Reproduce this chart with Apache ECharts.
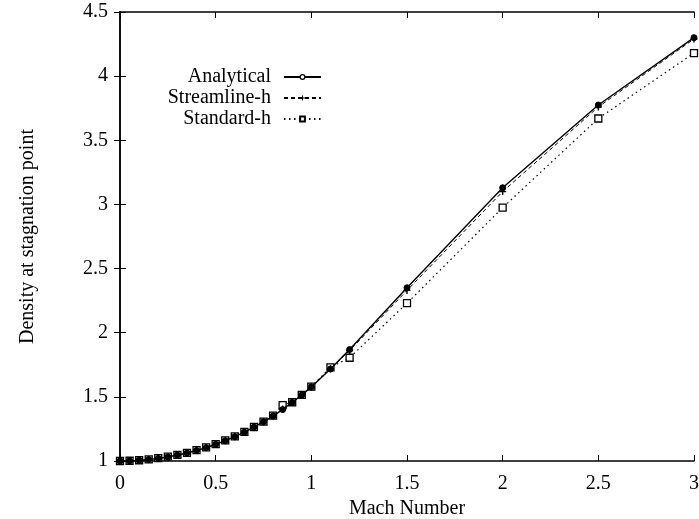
<!DOCTYPE html>
<html>
<head>
<meta charset="utf-8">
<script src="https://cdn.jsdelivr.net/npm/echarts@6/dist/echarts.min.js"></script>
<style>html,body{margin:0;padding:0;background:#fff;}#c{width:699px;height:519px;}</style>
</head>
<body>
<div id="c"></div>
<script>
var mach = [0,0.05,0.1,0.15,0.2,0.25,0.3,0.35,0.4,0.45,0.5,0.55,0.6,0.65,0.7,0.75,0.8,0.85,0.9,0.95,1.0,1.1,1.2,1.5,2,2.5,3];
var analytical = [1,1.001,1.005,1.011,1.020,1.032,1.046,1.062,1.082,1.104,1.130,1.158,1.190,1.225,1.263,1.305,1.351,1.401,1.456,1.514,1.577,1.717,1.869,2.35,3.13,3.775,4.30];
var streamline = [1,1.001,1.005,1.011,1.020,1.032,1.046,1.062,1.082,1.104,1.130,1.158,1.190,1.225,1.263,1.305,1.351,1.405,1.456,1.514,1.577,1.72,1.86,2.33,3.10,3.76,4.29];
var standard = [1,1.002,1.006,1.013,1.022,1.034,1.048,1.064,1.084,1.106,1.132,1.160,1.192,1.227,1.265,1.307,1.353,1.436,1.458,1.516,1.579,1.73,1.805,2.23,2.975,3.67,4.18];
var xTicks = {min:0, max:3, step:0.5};
var yTicks = {min:1, max:4.5, step:0.5};
var names = ['Analytical','Streamline-h','Standard-h'];

function pairs(ys){ return mach.map(function(m,i){ return [m, ys[i]]; }); }
var font = 'Liberation Serif';
var plus = 'path://M4,0 H6 V4 H10 V6 H6 V10 H4 V6 H0 V4 H4 Z';

var chart = echarts.init(document.getElementById('c'), null, {renderer:'canvas'});
function legend(name, top, itemStyle){
  var l = {
    data:[name], orient:'vertical', align:'right', right:377, top:top,
    itemWidth:37, itemHeight:6, padding:0,
    textStyle:{fontFamily:font, fontSize:20, color:'#000', padding:[0,8,0,0]},
    selectedMode:false
  };
  if (itemStyle) l.itemStyle = itemStyle;
  return l;
}
var axisCommon = {
  axisLine:{show:true, lineStyle:{color:'#000', width:1.5}},
  axisTick:{show:true, inside:true, length:6, lineStyle:{color:'#000', width:1}},
  splitLine:{show:false}
};
chart.setOption({
  animation:false,
  backgroundColor:'#fff',
  grid:{left:120, right:5, top:12, bottom:58, containLabel:false, outerBoundsMode:'none'},
  legend:[
    legend(names[0], 67, {color:'#fff', borderColor:'#000', borderWidth:1.2}),
    legend(names[1], 88),
    legend(names[2], 109)
  ],
  xAxis:[
    Object.assign({type:'value', min:xTicks.min, max:xTicks.max, interval:xTicks.step, position:'bottom',
      name:'Mach Number', nameLocation:'middle', nameGap:37,
      nameTextStyle:{fontFamily:font, fontSize:20, color:'#000'},
      axisLabel:{fontFamily:font, fontSize:20, color:'#000', margin:13}}, axisCommon),
    Object.assign({type:'value', min:xTicks.min, max:xTicks.max, interval:xTicks.step, position:'top',
      axisLabel:{show:false}}, axisCommon)
  ],
  yAxis:[
    Object.assign({type:'value', min:yTicks.min, max:yTicks.max, interval:yTicks.step, position:'left',
      name:'Density at stagnation point', nameLocation:'middle', nameGap:82,
      nameTextStyle:{fontFamily:font, fontSize:20, color:'#000'},
      axisLabel:{fontFamily:font, fontSize:20, color:'#000', margin:12}}, axisCommon),
    Object.assign({type:'value', min:yTicks.min, max:yTicks.max, interval:yTicks.step, position:'right',
      axisLabel:{show:false}}, axisCommon)
  ],
  series:[
    {name:names[2], type:'line', data:pairs(standard), symbol:'rect', symbolSize:7,
     itemStyle:{color:'#fff', borderColor:'#000', borderWidth:1.3},
     lineStyle:{color:'#000', width:1.2, type:[1.5,3.5]}, z:2},
    {name:names[1], type:'line', data:pairs(streamline), symbol:plus, symbolSize:7,
     itemStyle:{color:'#000', borderWidth:0},
     lineStyle:{color:'#000', width:1, type:[4,3]}, z:3},
    {name:names[0], type:'line', data:pairs(analytical), symbol:'circle', symbolSize:6,
     itemStyle:{color:'#000', borderColor:'#000', borderWidth:1},
     lineStyle:{color:'#000', width:1.4, type:'solid'}, z:4}
  ]
});
</script>
</body>
</html>
